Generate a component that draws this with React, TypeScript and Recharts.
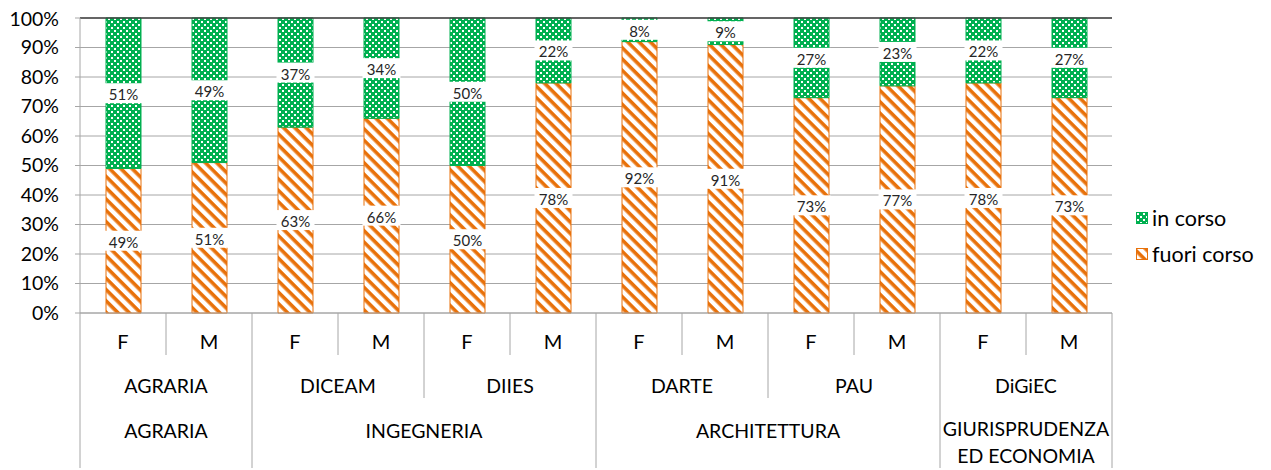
import {
  BarChart,
  Bar,
  XAxis,
  YAxis,
  CartesianGrid,
  ReferenceLine,
  LabelList,
} from "recharts";

const sexes = ["F", "M", "F", "M", "F", "M", "F", "M", "F", "M", "F", "M"];
const departments = [
  "AGRARIA", "AGRARIA", "DICEAM", "DICEAM", "DIIES", "DIIES",
  "DARTE", "DARTE", "PAU", "PAU", "DiGiEC", "DiGiEC",
];
const faculties = [
  "AGRARIA", "AGRARIA", "INGEGNERIA", "INGEGNERIA", "INGEGNERIA", "INGEGNERIA",
  "ARCHITETTURA", "ARCHITETTURA", "ARCHITETTURA", "ARCHITETTURA",
  "GIURISPRUDENZA\nED ECONOMIA", "GIURISPRUDENZA\nED ECONOMIA",
];
const fuoriCorso = [49, 51, 63, 66, 50, 78, 92, 91, 73, 77, 78, 73];
const inCorso = [51, 49, 37, 34, 50, 22, 8, 9, 27, 23, 22, 27];
const yTicks = [0, 10, 20, 30, 40, 50, 60, 70, 80, 90, 100];

const data = sexes.map((s, i) => ({
  key: `${departments[i]}-${s}`,
  sex: s,
  dept: departments[i],
  fac: faculties[i],
  fuori: fuoriCorso[i],
  inCorso: inCorso[i],
}));

const FONT = "Lato, 'Open Sans', sans-serif";
const GREEN = "#00B050";
const ORANGE = "#E8710A";
const W = 1255;
const H = 462;
const LEFT = 72;
const RIGHT = 151;
const BAND = (W - LEFT - RIGHT) / data.length;
const LINE = "#a6a6a6";

function countRun(arr: string[], i: number) {
  let n = 1;
  while (i + n < arr.length && arr[i + n] === arr[i]) n++;
  return n;
}

function CategoryTick(props: any) {
  const { x, y, index } = props;
  const i = index as number;
  const left = x - BAND / 2;
  const facStart = i === 0 || faculties[i] !== faculties[i - 1];
  const deptStart = i === 0 || departments[i] !== departments[i - 1];
  const sepLen = facStart ? 155 : deptStart ? 85 : 42;
  const out: any[] = [
    <line key="sep" x1={left} x2={left} y1={y} y2={y + sepLen} stroke={LINE} />,
    <text key="sex" x={x} y={y + 28} textAnchor="middle" dominantBaseline="central"
      fontSize={20} fontFamily={FONT} fill="#000">{sexes[i]}</text>,
  ];
  if (i === data.length - 1) {
    out.push(<line key="end" x1={x + BAND / 2} x2={x + BAND / 2} y1={y} y2={y + 155} stroke={LINE} />);
  }
  if (deptStart) {
    const n = countRun(departments, i);
    out.push(
      <text key="dept" x={left + (n * BAND) / 2} y={y + 72} textAnchor="middle"
        dominantBaseline="central" fontSize={19.5} fontFamily={FONT} fill="#000">
        {departments[i]}
      </text>
    );
  }
  if (facStart) {
    const n = countRun(faculties, i);
    const lines = faculties[i].split("\n");
    const y0 = lines.length > 1 ? y + 115 : y + 117;
    out.push(
      <text key="fac" x={left + (n * BAND) / 2} y={y0} textAnchor="middle"
        dominantBaseline="central" fontSize={19.5} fontFamily={FONT} fill="#000">
        {lines.map((l, k) => (
          <tspan key={k} x={left + (n * BAND) / 2} dy={k === 0 ? 0 : 27}>{l}</tspan>
        ))}
      </text>
    );
  }
  return <g>{out}</g>;
}

function ValueLabel(props: any) {
  const { x, y, width, height, value } = props;
  const cx = x + width / 2;
  const cy = y + height / 2;
  return (
    <g>
      <rect x={cx - 19} y={cy - 10} width={38} height={20} fill="#fff" />
      <text x={cx} y={cy + 1} textAnchor="middle" dominantBaseline="central"
        fontSize={15} fontFamily={FONT} fill="#262626">{`${value}%`}</text>
    </g>
  );
}

function Patterns() {
  return (
    <svg width={0} height={0} style={{ position: "absolute" }}>
      <defs>
        <pattern id="pGreen" width={6} height={6} patternUnits="userSpaceOnUse">
          <rect width={6} height={6} fill={GREEN} />
          <rect x={1} y={1} width={2} height={2} fill="#fff" />
          <rect x={4} y={4} width={2} height={2} fill="#fff" />
        </pattern>
        <pattern id="pOrange" width={8} height={8} patternUnits="userSpaceOnUse"
          patternTransform="rotate(45)">
          <rect width={8} height={8} fill="#fff" />
          <rect width={8} height={3.6} fill={ORANGE} />
        </pattern>
      </defs>
    </svg>
  );
}

const legendItems = [
  { name: "in corso", fill: "url(#pGreen)", stroke: GREEN },
  { name: "fuori corso", fill: "url(#pOrange)", stroke: ORANGE },
];

export default function App() {
  return (
    <div style={{ position: "relative", width: W, height: H, fontFamily: FONT }}>
      <Patterns />
      <BarChart width={W} height={H} data={data}
        margin={{ top: 10, right: RIGHT, left: 0, bottom: 2 }} barSize={35}>
        <CartesianGrid vertical={false} stroke={LINE} />
        <XAxis dataKey="key" interval={0} height={155} tickSize={0} tickMargin={0}
          axisLine={{ stroke: LINE }} tickLine={false} tick={<CategoryTick />} />
        <YAxis domain={[0, 100]} ticks={yTicks} width={LEFT} tickSize={5} tickMargin={16}
          axisLine={{ stroke: LINE }} tickLine={{ stroke: LINE }}
          tickFormatter={(v) => `${v}%`}
          tick={{ fontSize: 19.5, fontFamily: FONT, fill: "#000" }} />
        <YAxis yAxisId="r" orientation="right" width={0} tick={false} tickLine={false}
          axisLine={{ stroke: LINE }} />
        <Bar dataKey="fuori" stackId="a" fill="url(#pOrange)" stroke={ORANGE}
          strokeWidth={1} isAnimationActive={false}>
          <LabelList dataKey="fuori" content={<ValueLabel />} />
        </Bar>
        <Bar dataKey="inCorso" stackId="a" fill="url(#pGreen)" stroke={GREEN}
          strokeWidth={1} isAnimationActive={false}>
          <LabelList dataKey="inCorso" content={<ValueLabel />} />
        </Bar>
        <ReferenceLine y={100} stroke="#404040" strokeWidth={1.5} />
      </BarChart>
      <div style={{ position: "absolute", left: 1128, top: 192 }}>
        {legendItems.map((it) => (
          <div key={it.name} style={{ display: "flex", alignItems: "center", height: 36, fontSize: 21.5, color: "#000" }}>
            <svg width={12} height={12} style={{ marginRight: 4 }}>
              <rect x={0.5} y={0.5} width={11} height={11} fill={it.fill} stroke={it.stroke} />
            </svg>
            {it.name}
          </div>
        ))}
      </div>
    </div>
  );
}
